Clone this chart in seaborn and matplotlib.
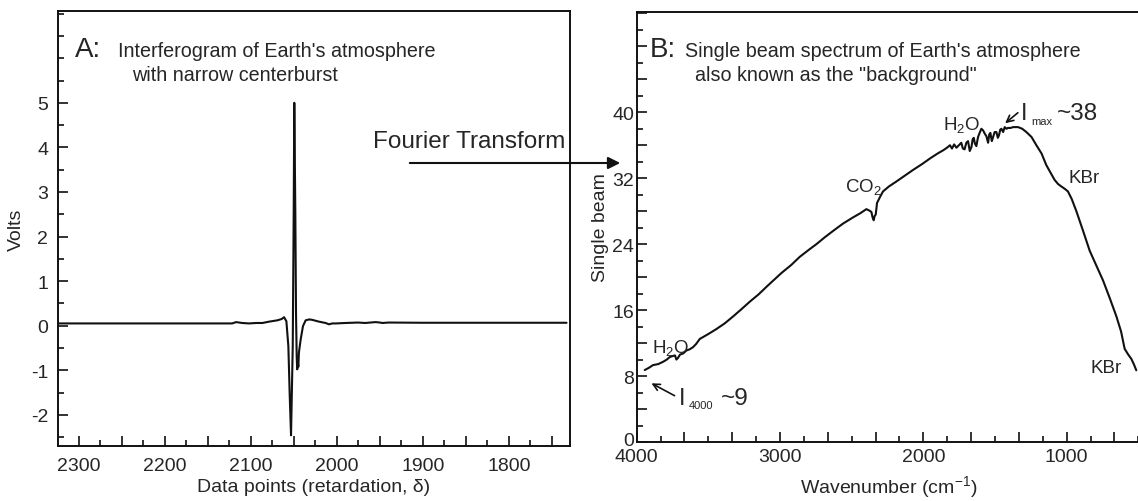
import numpy as np
import pandas as pd
import seaborn as sns
import matplotlib.pyplot as plt
from matplotlib.ticker import MultipleLocator, FuncFormatter
from matplotlib.transforms import ScaledTranslation

# Panel A: interferogram (data point index vs volts)
ifg_points = [2324, 2160, 2121.6, 2117, 2110, 2102, 2094, 2086.4, 2078.7, 2069, 2064,
              2061.3, 2058.6, 2056.3, 2054.7, 2053.2, 2051.2, 2050.1, 2049.4, 2048.2,
              2047.4, 2046.6, 2046.0, 2045.3, 2044.7, 2044.0, 2042, 2039.3, 2036.2,
              2032, 2028.5, 2020.7, 2013, 2009, 2005.3, 2001, 1990, 1975, 1967, 1955,
              1950, 1947, 1940, 1900, 1733]
ifg_volts = [0.05, 0.05, 0.05, 0.08, 0.06, 0.05, 0.06, 0.06, 0.09, 0.12, 0.15,
             0.19, 0.10, -0.46, -1.57, -2.46, -0.46, 2.53, 5.0, 2.53,
             0.28, -0.70, -0.98, -0.82, -0.92, -0.60, -0.31, -0.01, 0.12,
             0.14, 0.13, 0.09, 0.06, 0.03, 0.05, 0.05, 0.06, 0.07, 0.06, 0.08,
             0.07, 0.06, 0.07, 0.065, 0.065]

# Panel B: single beam spectrum (wavenumber vs intensity)
sb_wavenumber = [3944, 3915, 3886, 3850, 3816, 3790, 3770, 3745, 3733, 3723, 3712, 3698,
                 3675, 3653, 3630, 3607, 3585, 3560, 3500, 3444, 3385, 3326, 3270, 3209,
                 3150, 3093, 2990, 2920, 2863, 2800, 2746, 2690, 2630, 2560, 2490, 2440,
                 2397, 2374, 2362, 2355, 2346, 2340, 2332, 2323, 2300, 2281, 2240, 2188,
                 2130, 2072, 2010, 1953, 1900, 1860, 1835, 1814, 1800, 1785, 1769, 1752,
                 1735, 1724, 1712, 1700, 1688, 1676, 1664, 1656, 1648, 1640, 1630, 1618,
                 1607, 1595, 1583, 1571, 1560, 1548, 1540, 1532, 1522, 1513, 1502, 1490,
                 1480, 1472, 1463, 1455, 1443, 1432, 1420, 1409, 1390, 1374, 1339, 1310,
                 1281, 1245, 1211, 1175, 1142, 1110, 1084, 1060, 1037, 1012, 991, 965,
                 932, 885, 839, 790, 746, 700, 653, 620, 595, 570, 549, 530, 514]
sb_intensity = [8.73, 9.0, 9.33, 9.45, 9.73, 10.0, 10.3, 10.45, 10.5, 10.0, 10.2, 10.6,
                10.75, 11.1, 11.25, 11.5, 11.9, 12.5, 13.1, 13.7, 14.4, 15.25, 16.1, 17.05,
                17.9, 18.85, 20.5, 21.5, 22.45, 23.3, 24.0, 24.8, 25.6, 26.5, 27.25, 27.75,
                28.25, 28.05, 27.9, 27.3, 26.9, 27.4, 27.6, 29.0, 29.8, 30.4, 31.0, 31.6,
                32.3, 33.0, 33.7, 34.4, 35.0, 35.4, 35.7, 36.0, 35.6, 36.1, 35.7, 36.0,
                36.3, 35.6, 35.5, 36.3, 36.5, 35.3, 35.8, 36.7, 36.9, 36.2, 35.9, 37.0,
                37.5, 38.0, 37.8, 37.4, 37.1, 36.3, 37.3, 37.5, 36.5, 37.0, 37.6, 37.6,
                36.9, 37.2, 37.9, 38.0, 37.6, 38.2, 38.0, 38.1, 38.1, 38.2, 38.2, 38.0,
                37.6, 37.0, 36.0, 35.0, 33.6, 32.6, 31.8, 31.3, 31.0, 30.7, 30.4, 29.5,
                28.0, 25.6, 23.2, 21.3, 19.6, 17.5, 15.25, 13.4, 11.3, 10.6, 10.1, 9.4, 8.7]

df_a = pd.DataFrame({'point': ifg_points, 'volts': ifg_volts})
df_b = pd.DataFrame({'wavenumber': sb_wavenumber, 'intensity': sb_intensity})

sns.set_theme(style="ticks")
plt.rcParams['font.family'] = ['Liberation Sans', 'DejaVu Sans']
plt.rcParams['mathtext.fontset'] = 'custom'
plt.rcParams['mathtext.rm'] = 'Liberation Sans'
plt.rcParams['mathtext.default'] = 'regular'
plt.rcParams['axes.unicode_minus'] = False

W, H = 1138, 502
fig = plt.figure(figsize=(W / 100, H / 100), dpi=100)
fig.patch.set_facecolor('white')

def px(x, y):
    return x / W, 1 - y / H

axA = fig.add_axes([58 / W, (H - 447) / H, 512 / W, 435 / H])
axB = fig.add_axes([636.7 / W, (H - 443) / H, 503.3 / W, 430.3 / H])

line_kw = dict(color='#111111', linewidth=1.5, estimator=None, legend=False)
sns.lineplot(data=df_a, x='point', y='volts', ax=axA, **line_kw)
sns.lineplot(data=df_b, x='wavenumber', y='intensity', ax=axB, **line_kw)

# axes A
axA.set_xlim(2324, 1729)
axA.set_ylim(-2.70, 7.06)
axA.xaxis.set_major_locator(MultipleLocator(50))
axA.xaxis.set_minor_locator(MultipleLocator(25))
axA.xaxis.set_major_formatter(FuncFormatter(lambda v, p: f'{v:.0f}' if round(v) % 100 == 0 else ''))
axA.yaxis.set_minor_locator(MultipleLocator(0.5))
axA.set_yticks([-2, -1, 0, 1, 2, 3, 4, 5])
axA.set_xlabel('Data points (retardation, δ)', fontsize=14, labelpad=3)
axA.set_ylabel('Volts', fontsize=14, labelpad=4)

# axes B
axB.set_xlim(4000, 488)
axB.set_ylim(0, 52.2)
axB.xaxis.set_major_locator(MultipleLocator(1000 / 3))
axB.xaxis.set_minor_locator(MultipleLocator(1000 / 6))
axB.xaxis.set_major_formatter(FuncFormatter(lambda v, p: f'{v:.0f}' if abs(v / 1000 - round(v / 1000)) < 1e-6 else ''))
axB.yaxis.set_major_locator(MultipleLocator(4))
axB.yaxis.set_minor_locator(MultipleLocator(2))
axB.yaxis.set_major_formatter(FuncFormatter(lambda v, p: f'{v:.0f}' if round(v) % 8 == 0 and v <= 40 else ''))
axB.set_xlabel('Wavenumber (cm$^{-1}$)', fontsize=14, labelpad=6)
axB.set_ylabel('Single beam', fontsize=14, labelpad=2)

for ax in (axA, axB):
    ax.tick_params(which='both', direction='in', top=False, right=False,
                   width=1.2, color='#111111', labelsize=14)
    ax.tick_params(which='major', length=7)
    ax.tick_params(which='minor', length=4)
    for s in ax.spines.values():
        s.set_linewidth(1.4)
        s.set_color('#111111')
        s.set_visible(True)
axA.tick_params(axis='x', pad=8)
axA.tick_params(axis='y', pad=7)
axB.tick_params(axis='x', pad=4)
axB.tick_params(axis='y', pad=2)

# lift the "0" label of panel B a little so it clears "4000"
fig.canvas.draw()
for lbl in axB.get_yticklabels():
    if lbl.get_text() == '0':
        lbl.set_transform(lbl.get_transform() + ScaledTranslation(0, 3 / 100, fig.dpi_scale_trans))

# panel titles
fig.text(*px(75, 57), 'A:', fontsize=20, va='baseline', ha='left')
fig.text(*px(118, 57), "Interferogram of Earth's atmosphere", fontsize=14.2, va='baseline', ha='left')
fig.text(*px(132, 81), 'with narrow centerburst', fontsize=14.2, va='baseline', ha='left')
fig.text(*px(650, 57), 'B:', fontsize=20, va='baseline', ha='left')
fig.text(*px(685, 57), "Single beam spectrum of Earth's atmosphere", fontsize=14.2, va='baseline', ha='left')
fig.text(*px(695, 81), 'also known as the "background"', fontsize=14.2, va='baseline', ha='left')

# Fourier transform arrow
fig.text(*px(373, 148), 'Fourier Transform', fontsize=17.5, va='baseline', ha='left')
axA.annotate('', xy=px(623, 164), xytext=px(407, 164), xycoords='figure fraction',
             textcoords='figure fraction', annotation_clip=False,
             arrowprops=dict(arrowstyle='-|>', color='#111111', lw=1.5, mutation_scale=18))

# band labels
fig.text(*px(652, 353), 'H$_2$O', fontsize=13.5, va='baseline', ha='left')
fig.text(*px(845, 192), 'CO$_2$', fontsize=13.5, va='baseline', ha='left')
fig.text(*px(943, 130), 'H$_2$O', fontsize=13.5, va='baseline', ha='left')
fig.text(*px(1068, 183), 'KBr', fontsize=13.5, va='baseline', ha='left')
fig.text(*px(1090, 373), 'KBr', fontsize=13.5, va='baseline', ha='left')

# intensity callouts
fig.text(*px(1021, 120), 'I', fontsize=17, va='baseline', ha='left')
fig.text(*px(1031, 125), 'max', fontsize=8, va='baseline', ha='left')
fig.text(*px(1057, 120), '~38', fontsize=17.5, va='baseline', ha='left')
axB.annotate('', xy=px(1003, 126), xytext=px(1020, 112), xycoords='figure fraction',
             textcoords='figure fraction', annotation_clip=False,
             arrowprops=dict(arrowstyle='->', color='#111111', lw=1.2, mutation_scale=12))
fig.text(*px(679, 405), 'I', fontsize=17, va='baseline', ha='left')
fig.text(*px(689, 409), '4000', fontsize=8, va='baseline', ha='left')
fig.text(*px(721, 405), '~9', fontsize=17.5, va='baseline', ha='left')
axB.annotate('', xy=px(649, 383), xytext=px(677, 398), xycoords='figure fraction',
             textcoords='figure fraction', annotation_clip=False,
             arrowprops=dict(arrowstyle='->', color='#111111', lw=1.2, mutation_scale=12))

fig.savefig('out.png', dpi=100, facecolor='white')
